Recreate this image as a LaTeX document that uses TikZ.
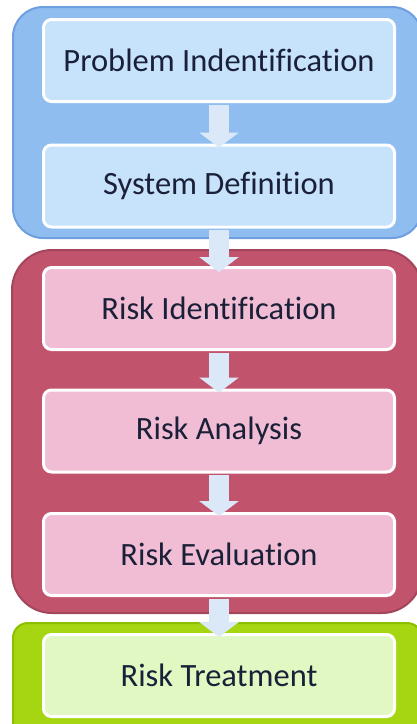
\documentclass[tikz,border=0pt]{standalone}
\usepackage{fontspec}
\setmainfont[Ligatures=NoCommon]{Carlito}
\usetikzlibrary{arrows.meta}
\definecolor{bluefill}{HTML}{8FBDF0}
\definecolor{blueline}{HTML}{6E9FE0}
\definecolor{blueinner}{HTML}{C7E3FB}
\definecolor{redfill}{HTML}{C2536C}
\definecolor{redline}{HTML}{A3455B}
\definecolor{pinkinner}{HTML}{F1BDD5}
\definecolor{greenfill}{HTML}{A6D612}
\definecolor{greenline}{HTML}{8CBF00}
\definecolor{greeninner}{HTML}{E2F8C2}
\definecolor{arrowcol}{HTML}{DAE8F8}
\definecolor{textcol}{HTML}{1A2038}
\tikzset{
  x=1pt, y=-1pt,
  stepbox/.style={draw=white, line width=3pt, rounded corners=8pt,
    minimum width=351pt, minimum height=82pt, inner sep=0pt,
    font=\fontsize{32.5}{38}\selectfont, text=textcol},
  flowarrow/.style={draw=arrowcol, line width=20pt,
    -{Triangle[width=39pt,length=15pt]}, shorten <=1.5pt},
}
\begin{document}
\begin{tikzpicture}
\useasboundingbox (0,0) rectangle (417,724);
\clip (0,0) rectangle (417,724);
% containers
\draw[fill=bluefill, draw=blueline, line width=2pt, rounded corners=30pt] (13,7) rectangle (422,238);
\draw[fill=redfill, draw=redline, line width=2pt, rounded corners=40pt] (12,250) rectangle (422,613);
\draw[fill=greenfill, draw=greenline, line width=2pt, rounded corners=15pt] (13,623) rectangle (422,740);
% steps
\node[stepbox, fill=blueinner] (p) at (219,60.5) {Problem Indentification};
\node[stepbox, fill=blueinner] (s) at (219,186) {System Definition};
\node[stepbox, fill=pinkinner] (ri) at (219,308.5) {Risk Identification};
\node[stepbox, fill=pinkinner] (ra) at (219,431) {Risk Analysis};
\node[stepbox, fill=pinkinner] (re) at (219,554.5) {Risk Evaluation};
\node[stepbox, fill=greeninner] (rt) at (219,675.5) {Risk Treatment};
% arrows
\draw[flowarrow] (p.south) -- ([yshift=-4pt]s.north);
\draw[flowarrow] (s.south) -- ([yshift=-6pt]ri.north);
\draw[flowarrow] (ri.south) -- ([yshift=-4pt]ra.north);
\draw[flowarrow] (ra.south) -- ([yshift=-4pt]re.north);
\draw[flowarrow] (re.south) -- ([yshift=-4pt]rt.north);
\end{tikzpicture}
\end{document}
